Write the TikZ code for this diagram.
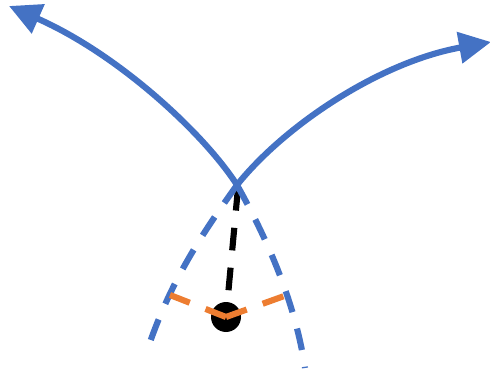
\documentclass[tikz,border=0pt]{standalone}
\usetikzlibrary{arrows.meta}
\definecolor{oblue}{HTML}{4472C4}
\definecolor{oorange}{HTML}{ED7D31}
\begin{document}
\begin{tikzpicture}[x=0.75pt,y=-0.75pt,
  solidcurve/.style={draw=oblue,line width=4.6pt,-{Triangle[length=24pt,width=23pt]}},
  dashcurve/.style={draw=oblue,line width=4.6pt,dash pattern=on 16.5pt off 12.75pt},
  blackdash/.style={draw=black,line width=4.6pt,dash pattern=on 17pt off 13pt},
  orangedash/.style={draw=oorange,line width=4.6pt,dash pattern=on 16.5pt off 12.75pt}]
\useasboundingbox (0,0) rectangle (490,371);
\coordinate (X) at (237,185);
\coordinate (TL) at (9,6);
\coordinate (TR) at (491,42);
\coordinate (BL) at (146,354);
\coordinate (BR) at (305,368);
\coordinate (D) at (226,317);
\coordinate (OL) at (170,295);
\coordinate (OR) at (287,295);
\draw[blackdash] (238,188) -- (D);
\draw[dashcurve] (X) .. controls (205,230) and (170,280) .. (BL);
\draw[dashcurve] (X) .. controls (265,235) and (295,300) .. (BR);
\draw[solidcurve] (X) .. controls (205,135) and (120,55) .. (TL);
\draw[solidcurve] (X) .. controls (285,125) and (380,62) .. (TR);
\fill[black] (D) circle (11.25pt);
\draw[orangedash] (D) -- (OL);
\draw[orangedash] (D) -- (OR);
\end{tikzpicture}
\end{document}
